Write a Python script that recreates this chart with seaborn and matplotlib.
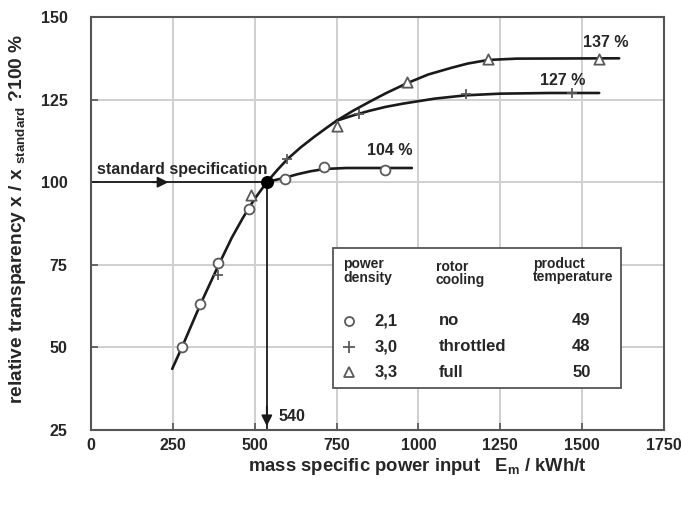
import numpy as np
import pandas as pd
import seaborn as sns
import matplotlib.pyplot as plt
from matplotlib.patches import Rectangle

circle_x = [278, 334, 389, 482, 594, 713, 899]
circle_y = [50.1, 63.2, 75.4, 92.0, 100.9, 104.6, 103.7]
plus_x = [389, 598, 820, 1145, 1470]
plus_y = [71.8, 106.9, 120.7, 126.8, 126.9]
tri_x = [490, 750, 966, 1213, 1552]
tri_y = [96.2, 117.1, 130.2, 137.2, 137.2]

# fitted curves
common_x = [248, 278, 334, 389, 430, 465, 500, 537]
common_y = [43.5, 50.1, 63.0, 74.8, 83.2, 89.4, 95.0, 100.0]
upper_x = [537, 570, 600, 640, 680, 720, 750]
upper_y = [100.0, 103.8, 107.0, 110.5, 113.6, 116.5, 118.6]
circ_curve_x = [537, 560, 594, 630, 670, 713, 780, 899, 980]
circ_curve_y = [100.0, 100.6, 101.4, 102.4, 103.3, 104.0, 104.3, 104.3, 104.3]
plus_curve_x = [750, 800, 850, 900, 954, 1050, 1145, 1250, 1400, 1552]
plus_curve_y = [118.6, 120.2, 121.6, 122.8, 123.8, 125.3, 126.3, 126.8, 127.0, 127.0]
tri_curve_x = [750, 800, 850, 900, 966, 1030, 1100, 1150, 1213, 1300, 1613]
tri_curve_y = [118.6, 121.6, 124.3, 126.9, 130.0, 132.6, 134.6, 135.9, 137.0, 137.4, 137.5]

std_x = 537
std_y = 100

legend_density = ['2,1', '3,0', '3,3']
legend_cooling = ['no', 'throttled', 'full']
legend_temp = ['49', '48', '50']

sns.set_theme(style='whitegrid')
plt.rcParams['font.family'] = ['Liberation Sans', 'DejaVu Sans']
plt.rcParams['font.weight'] = 'bold'
plt.rcParams['mathtext.fontset'] = 'custom'
plt.rcParams['mathtext.rm'] = 'Liberation Sans:bold'
plt.rcParams['mathtext.it'] = 'Liberation Sans:bold'
plt.rcParams['mathtext.bf'] = 'Liberation Sans:bold'

fig = plt.figure(figsize=(6.81, 5.05), dpi=100)
ax = fig.add_axes([91 / 681, 75 / 505, 573 / 681, 413 / 505])
ax.set_facecolor('white')

line_col = '#1a1a1a'
mark_col = '#5a5a5a'

for cx, cy in [(common_x, common_y), (upper_x, upper_y), (circ_curve_x, circ_curve_y),
               (plus_curve_x, plus_curve_y), (tri_curve_x, tri_curve_y)]:
    sns.lineplot(x=cx, y=cy, sort=False, estimator=None, color=line_col, lw=1.9, ax=ax)

# standard specification lines + arrows
ax.plot([0, std_x], [std_y, std_y], color=line_col, lw=1.3)
ax.plot([std_x, std_x], [std_y, 25], color=line_col, lw=1.3)
ax.annotate('', xy=(245, std_y), xytext=(180, std_y),
            arrowprops=dict(arrowstyle='-|>', color=line_col, lw=1.3, mutation_scale=16))
ax.annotate('', xy=(std_x, 25.3), xytext=(std_x, 33),
            arrowprops=dict(arrowstyle='-|>', color=line_col, lw=1.3, mutation_scale=16))

sns.scatterplot(x=circle_x, y=circle_y, marker='o', s=50, facecolor='white',
                edgecolor=mark_col, linewidth=1.3, zorder=5, ax=ax)
sns.scatterplot(x=plus_x, y=plus_y, marker='+', s=55, color=mark_col,
                linewidth=1.3, zorder=5, ax=ax)
sns.scatterplot(x=tri_x, y=tri_y, marker='^', s=55, facecolor='white',
                edgecolor=mark_col, linewidth=1.3, zorder=5, ax=ax)
ax.scatter([std_x], [std_y], s=70, color='black', zorder=6)

ax.text(18, 103.7, 'standard specification', fontsize=11.5, va='center', ha='left')
ax.text(614, 29, '540', fontsize=11.5, va='center', ha='center')
ax.text(912, 109.5, '104 %', fontsize=11.5, va='center', ha='center')
ax.text(1442, 130.8, '127 %', fontsize=11.5, va='center', ha='center')
ax.text(1573, 142.4, '137 %', fontsize=11.5, va='center', ha='center')

# legend table
ax.add_patch(Rectangle((0.423, 0.102), 0.502, 0.339, transform=ax.transAxes,
                       facecolor='white', edgecolor='#555555', lw=1.3, zorder=7))
head_kw = dict(transform=ax.transAxes, fontsize=10, va='top', ha='left',
               linespacing=0.95, zorder=8)
ax.text(0.440, 0.418, 'power\ndensity', **head_kw)
ax.text(0.602, 0.412, 'rotor\ncooling', **head_kw)
ax.text(0.772, 0.420, 'product\ntemperature', **head_kw)
row_y = [0.264, 0.201, 0.140]
markers = ['o', '+', '^']
for i in range(3):
    if markers[i] == '+':
        ax.plot(0.451, row_y[i], marker='+', ms=8, color=mark_col, mew=1.3,
                transform=ax.transAxes, zorder=8)
    else:
        ax.plot(0.451, row_y[i], marker=markers[i], ms=6.5, mfc='white', mec=mark_col,
                mew=1.3, transform=ax.transAxes, zorder=8)
    ax.text(0.495, row_y[i], legend_density[i], transform=ax.transAxes, fontsize=12,
            va='center', ha='left', zorder=8)
    ax.text(0.607, row_y[i], legend_cooling[i], transform=ax.transAxes, fontsize=12,
            va='center', ha='left', zorder=8)
    ax.text(0.856, row_y[i], legend_temp[i], transform=ax.transAxes, fontsize=12,
            va='center', ha='center', zorder=8)

ax.set_xlim(0, 1750)
ax.set_ylim(25, 150)
ax.set_xticks(np.arange(0, 1751, 250))
ax.set_yticks(np.arange(25, 151, 25))
ax.tick_params(axis='both', labelsize=11.5, direction='in', length=5, width=1.2,
               color='#555555', left=True, bottom=True)
ax.tick_params(axis='y', pad=17)
ax.tick_params(axis='x', pad=6)
ax.grid(True, color='#cfcfcf', lw=1.4)
for s in ax.spines.values():
    s.set_color('#555555')
    s.set_linewidth(1.5)

ax.set_xlabel('mass specific power input   E$_{\\rm m}$ / kWh/t', fontsize=13.3, fontweight='bold')
ax.set_ylabel('relative transparency x / x $_{\\rm standard}$ ?100 %', fontsize=13.8,
              fontweight='bold')
ax.xaxis.set_label_coords(0.57, -0.063)
ax.yaxis.set_label_coords(-0.11, 0.51)

fig.savefig('out.png', dpi=100)
